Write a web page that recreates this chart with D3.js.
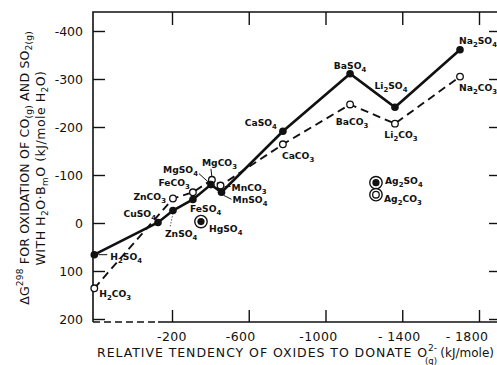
<!DOCTYPE html>
<html><head><meta charset="utf-8">
<script src="https://cdn.jsdelivr.net/npm/d3@7"></script>
<style>
html,body{margin:0;padding:0;background:#fff;}
svg{display:block;font-family:"DejaVu Sans",sans-serif;}
</style></head>
<body><svg id="c" width="497" height="365"></svg>
<script>
// ---- data ----
const sulfateNames = ["H_2SO_4","CuSO_4","ZnSO_4","FeSO_4","MgSO_4","MnSO_4","CaSO_4","BaSO_4","Li_2SO_4","Na_2SO_4"];
const sulfateX     = [205, -127, -205, -309, -403, -458, -778, -1128, -1362, -1701];
const sulfateY     = [66, -1, -26, -49, -80, -64, -191, -311, -241, -361];

const carbonateNames = ["H_2CO_3","ZnCO_3","FeCO_3","MgCO_3","MnCO_3","CaCO_3","BaCO_3","Li_2CO_3","Na_2CO_3"];
const carbonateX     = [205, -205, -309, -408, -453, -778, -1128, -1362, -1701];
const carbonateY     = [136, -51, -64, -90, -78, -164, -247, -207, -305];

const isolatedNames  = ["HgSO_4","Ag_2SO_4","Ag_2CO_3"];
const isolatedX      = [-351, -1263, -1263];
const isolatedY      = [-3, -84, -59];
const isolatedFilled = [true, true, false];

const xTicks = [-200, -600, -1000, -1400, -1800];
const xTickLabels = ["-200", "-600", "-1000", "- 1400", "- 1800"];
const yTicks = [-400, -300, -200, -100, 0, 100, 200];
const yTickLabels = ["-400", "-300", "-200", "-100", "0", "100", "200"];

// ---- layout ----
const xTickNudge = [0, -8, -7, -3, -12];
const labelLayout = {
  "H_2SO_4":[16,5,"start",[4,0,13,0]],
  "H_2CO_3":[5,9,"start",null],
  "CuSO_4":[-2,-6,"end",null],
  "ZnSO_4":[-8,26,"start",[0,3,-3,17],"dot"],
  "ZnCO_3":[-7,1,"end",null],
  "FeCO_3":[-3,-6,"end",null],
  "FeSO_4":[-3,13,"start",null],
  "MgSO_4":[-13,-12,"end",[-2,-2,-12,-11]],
  "MgCO_3":[-10,-14,"start",[0,-3,-1,-11]],
  "MnCO_3":[11,5,"start",[4,1,10,1]],
  "MnSO_4":[11,11,"start",[2,3,10,7]],
  "HgSO_4":[8,10,"start",null],
  "CaSO_4":[-6,-5,"end",null],
  "CaCO_3":[-1,15,"start",null],
  "BaSO_4":[0,-5,"middle",null],
  "BaCO_3":[2,21,"middle",null],
  "Li_2SO_4":[-4,-18,"middle",null],
  "Li_2CO_3":[6,14,"middle",null],
  "Na_2SO_4":[-1,-6,"start",null],
  "Na_2CO_3":[-1,14,"start",null],
  "Ag_2SO_4":[9,1,"start",null],
  "Ag_2CO_3":[8,7,"start",null]
};

const pLeft = 93, pRight = 497, pTop = 12, pBottom = 322;
const x = d3.scaleLinear().domain([-200, -1800]).range([172, 479]);
const y = d3.scaleLinear().domain([-400, 200]).range([31, 319]);

const svg = d3.select("#c");
const ink = "#111";

// frame
svg.append("path").attr("d",`M${pLeft},${pBottom}V${pTop}H${pRight}`).attr("fill","none").attr("stroke",ink).attr("stroke-width",1.6);
svg.append("path").attr("d",`M${pLeft},${pBottom}H${pRight}`).attr("fill","none").attr("stroke",ink).attr("stroke-width",1.7)
  .attr("stroke-dasharray","7,4,7,4,7,4,7,4,7,4,7,3,500");

// axes via d3 axis generators (inward ticks)
const gL = svg.append("g").attr("transform",`translate(${pLeft},0)`).call(d3.axisRight(y).tickValues(yTicks).tickSize(12).tickFormat(""));
const gR = svg.append("g").attr("transform",`translate(${pRight},0)`).call(d3.axisLeft(y).tickValues(yTicks).tickSize(8).tickFormat(""));
const gT = svg.append("g").attr("transform",`translate(0,${pTop})`).call(d3.axisBottom(x).tickValues(xTicks).tickSize(13).tickFormat(""));
const gB = svg.append("g").attr("transform",`translate(0,${pBottom})`).call(d3.axisTop(x).tickValues(xTicks).tickSize(12).tickFormat(""));
[gL,gR,gT,gB].forEach(g=>{g.select(".domain").remove();g.selectAll("line").attr("stroke",ink).attr("stroke-width",1.4);});

// tick labels
svg.append("g").selectAll("text").data(yTicks).join("text")
  .attr("x",83).attr("y",d=>y(d)+4.5).attr("text-anchor","end")
  .attr("font-size",12.5).attr("fill",ink).text((d,i)=>yTickLabels[i]);
svg.append("g").selectAll("text").data(xTicks).join("text")
  .attr("x",(d,i)=>x(d)+xTickNudge[i]).attr("y",341).attr("text-anchor","middle")
  .attr("font-size",12.5).attr("fill",ink).attr("letter-spacing",0.4).text((d,i)=>xTickLabels[i]);

// helper: text with subscripts "_n"
function richText(sel, s, size){
  const parts = s.split(/(_\d+)/).filter(p=>p.length);
  let shifted = false;
  parts.forEach(p=>{
    if(p[0]==="_"){
      sel.append("tspan").attr("font-size",size*0.75).attr("dy",shifted?0:3).text(p.slice(1));
      shifted = true;
    } else {
      sel.append("tspan").attr("dy",shifted?-3:0).text(p);
      shifted = false;
    }
  });
}

// lines
const line = d3.line().x(d=>x(d[0])).y(d=>y(d[1]));
const sPts = sulfateX.map((v,i)=>[v,sulfateY[i]]);
const cPts = carbonateX.map((v,i)=>[v,carbonateY[i]]);
svg.append("path").attr("d",line(cPts)).attr("fill","none").attr("stroke",ink).attr("stroke-width",1.9).attr("stroke-dasharray","8,5");
svg.append("path").attr("d",line(sPts)).attr("fill","none").attr("stroke",ink).attr("stroke-width",2.6);

// points
svg.append("g").selectAll("circle").data(cPts).join("circle")
  .attr("cx",d=>x(d[0])).attr("cy",d=>y(d[1])).attr("r",3.3)
  .attr("fill","#fff").attr("stroke",ink).attr("stroke-width",1.3);
svg.append("g").selectAll("circle").data(sPts).join("circle")
  .attr("cx",d=>x(d[0])).attr("cy",d=>y(d[1])).attr("r",3.8).attr("fill",ink);

isolatedNames.forEach((n,i)=>{
  const cx = x(isolatedX[i]), cy = y(isolatedY[i]);
  svg.append("circle").attr("cx",cx).attr("cy",cy).attr("r",6.2).attr("fill","#fff").attr("stroke",ink).attr("stroke-width",1.4);
  if(isolatedFilled[i]) svg.append("circle").attr("cx",cx).attr("cy",cy).attr("r",3.6).attr("fill",ink);
  else svg.append("circle").attr("cx",cx).attr("cy",cy).attr("r",3.3).attr("fill","none").attr("stroke",ink).attr("stroke-width",1.3);
});

// labels
const allPts = [];
sulfateNames.forEach((n,i)=>allPts.push([n,sulfateX[i],sulfateY[i]]));
carbonateNames.forEach((n,i)=>allPts.push([n,carbonateX[i],carbonateY[i]]));
isolatedNames.forEach((n,i)=>allPts.push([n,isolatedX[i],isolatedY[i]]));
const lg = svg.append("g").attr("font-size",9.2).attr("fill",ink).attr("font-weight","bold");
allPts.forEach(([n,vx,vy])=>{
  const L = labelLayout[n]; if(!L) return;
  const px = x(vx), py = y(vy);
  if(L[3]){
    svg.append("line").attr("x1",px+L[3][0]).attr("y1",py+L[3][1]).attr("x2",px+L[3][2]).attr("y2",py+L[3][3])
      .attr("stroke",ink).attr("stroke-width",1).attr("stroke-dasharray",L[4]==="dot"?"1,2":null);
  }
  const t = lg.append("text").attr("x",px+L[0]).attr("y",py+L[1]).attr("text-anchor",L[2]);
  richText(t,n,9.2);
});

// x axis title
svg.append("text").attr("x",97).attr("y",357).attr("font-size",12.5).attr("fill",ink)
  .attr("textLength",330).attr("lengthAdjust","spacing").text("RELATIVE TENDENCY OF OXIDES TO DONATE O");
svg.append("text").attr("x",428).attr("y",351).attr("font-size",9).attr("fill",ink).text("2-");
svg.append("text").attr("x",425).attr("y",364).attr("font-size",8.5).attr("fill",ink).text("(g)");
svg.append("text").attr("x",494).attr("y",357).attr("font-size",12).attr("fill",ink).attr("text-anchor","end").text("(kJ/mole)");

// y axis title (two lines, rotated)
const yt1 = svg.append("text").attr("transform","translate(29,168) rotate(-90)").attr("text-anchor","middle").attr("font-size",12.5).attr("fill",ink).attr("letter-spacing",0.2);
yt1.append("tspan").text("ΔG");
yt1.append("tspan").attr("font-size",9).attr("dy",-6).text("298");
yt1.append("tspan").attr("dy",6).text(" FOR OXIDATION OF CO");
yt1.append("tspan").attr("font-size",9).attr("dy",3).text("(g)");
yt1.append("tspan").attr("dy",-3).text(" AND SO");
yt1.append("tspan").attr("font-size",9).attr("dy",3).text("2(g)");
const yt2 = svg.append("text").attr("transform","translate(45,168) rotate(-90)").attr("text-anchor","middle").attr("font-size",12.5).attr("fill",ink).attr("letter-spacing",0.5);
yt2.append("tspan").text("WITH H");
yt2.append("tspan").attr("font-size",9).attr("dy",3).text("2");
yt2.append("tspan").attr("dy",-3).text("O·B");
yt2.append("tspan").attr("font-size",9).attr("dy",3).text("m");
yt2.append("tspan").attr("dy",-3).text("O   (kJ/mole H");
yt2.append("tspan").attr("font-size",9).attr("dy",3).text("2");
yt2.append("tspan").attr("dy",-3).text("O)");
</script></body></html>
